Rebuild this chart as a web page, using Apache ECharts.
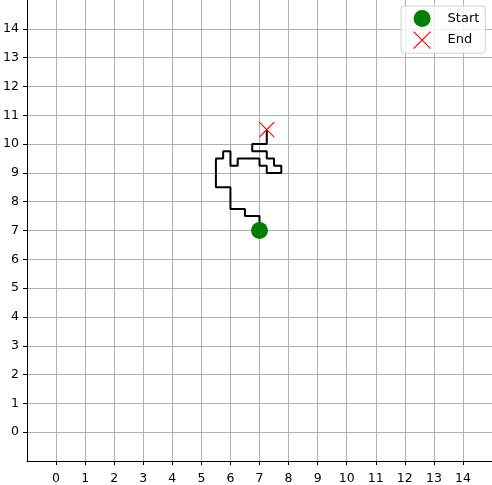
<!DOCTYPE html>
<html>
<head>
<meta charset="utf-8">
<script src="https://cdn.jsdelivr.net/npm/echarts@6/dist/echarts.min.js"></script>
<style>
html,body{margin:0;padding:0;background:#fff;}
#c{width:492px;height:485px;}
</style>
</head>
<body>
<div id="c"></div>
<script>
// Path of the walk (x, y)
var pathX = [7, 7, 6.5, 6.5, 6, 6, 5.5, 5.5, 5.75, 5.75, 6, 6, 6.25, 6.25, 7, 7, 7.25, 7.25, 7.75, 7.75, 7.5, 7.5, 7.25, 7.25, 6.75, 6.75, 7.25, 7.25];
var pathY = [7, 7.5, 7.5, 7.75, 7.75, 8.5, 8.5, 9.5, 9.5, 9.75, 9.75, 9.25, 9.25, 9.5, 9.5, 9.25, 9.25, 9, 9, 9.25, 9.25, 9.5, 9.5, 9.75, 9.75, 10, 10, 10.5];
var startPoint = [7, 7];
var endPoint = [7.25, 10.5];
var xTicks = [0, 1, 2, 3, 4, 5, 6, 7, 8, 9, 10, 11, 12, 13, 14];
var yTicks = [0, 1, 2, 3, 4, 5, 6, 7, 8, 9, 10, 11, 12, 13, 14];
var legendNames = ['Start', 'End'];

var pathData = pathX.map(function (x, i) { return [x, pathY[i]]; });
var xSym = 'path://M0,0L10,10M10,0L0,10';
var xLegendSym = 'path://M7,0L24,17M24,0L7,17M0,8.5L0,8.5M31,8.5L31,8.5';
var FONT = 'DejaVu Sans';

var chart = echarts.init(document.getElementById('c'), null, {renderer: 'canvas'});
chart.setOption({
  animation: false,
  backgroundColor: '#ffffff',
  grid: {left: 27, top: 0, right: 0, bottom: 24, containLabel: false},
  xAxis: {
    type: 'value', min: -1, max: 15, interval: 1,
    axisLine: {onZero: false, lineStyle: {color: '#000', width: 1}},
    axisTick: {show: true, length: 4, lineStyle: {color: '#000', width: 1}, customValues: xTicks},
    axisLabel: {color: '#000', fontFamily: FONT, fontSize: 12.5, margin: 11, customValues: xTicks},
    splitLine: {show: true, lineStyle: {color: '#b0b0b0', width: 1}}
  },
  yAxis: {
    type: 'value', min: -1, max: 15, interval: 1,
    axisLine: {onZero: false, lineStyle: {color: '#000', width: 1}},
    axisTick: {show: true, length: 4, lineStyle: {color: '#000', width: 1}, customValues: yTicks},
    axisLabel: {color: '#000', fontFamily: FONT, fontSize: 12.5, margin: 8, customValues: yTicks},
    splitLine: {show: true, lineStyle: {color: '#b0b0b0', width: 1}}
  },
  legend: {
    orient: 'vertical',
    left: 401, top: 6,
    padding: [4, 6, 4, 5],
    itemWidth: 31, itemHeight: 17, itemGap: 4,
    borderColor: '#d0d0d0', borderWidth: 1, borderRadius: 3,
    backgroundColor: 'rgba(255,255,255,0.8)',
    textStyle: {color: '#000', fontFamily: FONT, fontSize: 13, padding: [0, 0, 0, 5]},
    data: [
      {name: legendNames[0], icon: 'circle'},
      {name: legendNames[1], icon: xLegendSym,
       itemStyle: {color: 'rgba(0,0,0,0)', borderColor: '#ff0000', borderWidth: 1.2}}
    ]
  },
  series: [
    {
      type: 'line', name: 'path', data: pathData, showSymbol: false, symbol: 'none',
      lineStyle: {color: '#000', width: 2}, z: 2
    },
    {
      type: 'scatter', name: legendNames[0], data: [startPoint], symbol: 'circle', symbolSize: 17,
      itemStyle: {color: '#008000', opacity: 1}, z: 3
    },
    {
      type: 'scatter', name: legendNames[1], data: [endPoint], symbol: xSym, symbolSize: 15,
      itemStyle: {color: 'rgba(0,0,0,0)', borderColor: '#ff0000', borderWidth: 1.2, opacity: 1}, z: 3
    }
  ]
});
</script>
</body>
</html>
